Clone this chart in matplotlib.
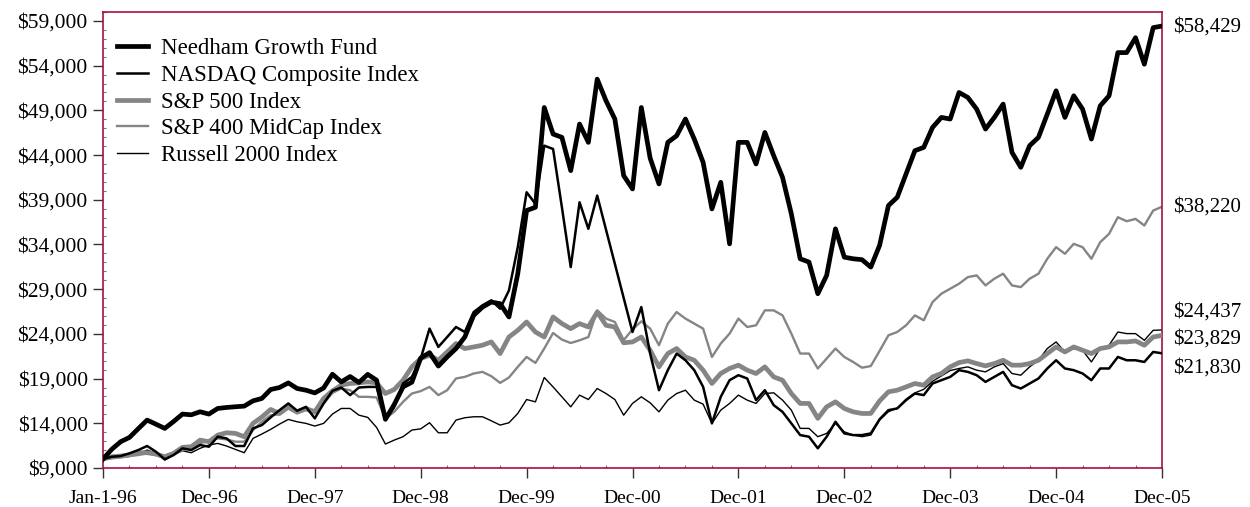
import numpy as np
import matplotlib
matplotlib.use("Agg")
import matplotlib.pyplot as plt
from matplotlib.ticker import FixedLocator, MultipleLocator, FuncFormatter

plt.rcParams['font.family'] = ['Liberation Serif', 'DejaVu Serif']

# growth of $10,000, month ends Jan-1-96 .. Dec-05 (121 points)
needham = [
    10000, 11100, 11940, 12420, 13400, 14360, 13900, 13430, 14200, 15030,
    14950, 15290, 15030, 15660, 15770, 15850, 15920, 16510, 16780, 17780,
    18000, 18520, 17890, 17700, 17400, 17950, 19490, 18630, 19230, 18570,
    19470, 18820, 14450, 16100, 18070, 18600, 21300, 21900, 20400, 21425,
    22360, 23650, 26075, 27000, 27560, 27380, 25890, 30730, 37800, 38160,
    49320, 46350, 45980, 42260, 47470, 45420, 52490, 50070, 48030, 41700,
    40210, 49320, 43650, 40770, 45420, 46160, 48030, 45790, 43190, 37980,
    40950, 34070, 45420, 45420, 43000, 46530, 43930, 41510, 37420, 32400,
    32030, 28490, 30540, 35750, 32580, 32400, 32300, 31470, 33900, 38350,
    39280, 41890, 44490, 44860, 47090, 48210, 48030, 51000, 50440, 49140,
    46910, 48210, 49700, 44300, 42630, 45050, 45980, 48580, 51190, 48210,
    50630, 49140, 45790, 49510, 50630, 55460, 55460, 57130, 54160, 58250,
    58429]

nasdaq = [
    10000, 10260, 10340, 10640, 11010, 11460, 10820, 9970, 10450, 11200,
    11010, 11570, 11380, 12500, 12310, 11460, 11460, 13430, 13800, 14660,
    15470, 16220, 15400, 15840, 14550, 16220, 17630, 18000, 17150, 18000,
    18070, 18070, 14360, 15840, 18450, 19190, 21240, 24590, 22540, 23650,
    24770, 24210, 26440, 27190, 27750, 26820, 28860, 33700, 39840, 38540,
    45050, 44680, 38160, 31470, 38720, 35750, 39470, 35650, 31840, 28020,
    24210, 27000, 21800, 17700, 19940, 21800, 21050, 19940, 18080, 13990,
    16960, 18820, 19380, 19010, 16590, 17700, 16030, 15280, 13990, 12680,
    12500, 11200, 12500, 14170, 12870, 12680, 12680, 12870, 14450, 15470,
    15660, 16590, 17330, 17150, 18450, 18820, 19190, 19940, 19750, 19380,
    18630, 19190, 19750, 18260, 17890, 18450, 19010, 20130, 21050, 20130,
    19940, 19570, 18820, 20130, 20130, 21420, 21050, 21050, 20860, 21980,
    21830]

sp500 = [
    10000, 10260, 10340, 10450, 10710, 10710, 10560, 10260, 10640, 11310,
    11380, 12120, 11940, 12680, 12940, 12870, 12500, 13990, 14700, 15550,
    15100, 15840, 15290, 15660, 15290, 16780, 17630, 18260, 18450, 18520,
    18630, 18520, 17330, 17780, 18820, 20310, 21240, 21610, 21050, 21980,
    22920, 22360, 22540, 22730, 23100, 21800, 23650, 24400, 25330, 24210,
    23650, 25890, 25150, 24590, 25150, 24770, 26440, 24960, 24770, 23000,
    23100, 23650, 22170, 20310, 21800, 22360, 21420, 21050, 19940, 18450,
    19570, 20130, 20500, 19940, 19570, 20310, 19190, 18820, 17330, 16220,
    16220, 14550, 15840, 16400, 15660, 15280, 15100, 15100, 16500, 17520,
    17700, 18070, 18450, 18260, 19190, 19570, 20310, 20790, 20980, 20680,
    20420, 20680, 21050, 20500, 20500, 20680, 21050, 21800, 22540, 21980,
    22540, 22170, 21800, 22360, 22540, 23100, 23100, 23210, 22730, 23650,
    23829]

midcap = [
    10000, 10080, 10190, 10340, 10450, 10640, 10450, 10080, 10560, 11010,
    11200, 11750, 12120, 12310, 12200, 11940, 11940, 13240, 14170, 14900,
    15000, 15660, 15100, 15470, 15100, 16220, 17400, 17890, 17700, 16960,
    16960, 16890, 14550, 15290, 16400, 17330, 17600, 18070, 17150, 17700,
    19010, 19190, 19570, 19750, 19270, 18520, 19120, 20310, 21420, 20750,
    22360, 24100, 23360, 22980, 23280, 23650, 26630, 25710, 25330, 23300,
    24500, 25400, 24590, 22730, 25150, 26440, 25710, 25150, 24590, 21420,
    22920, 24030, 25710, 24770, 24960, 26630, 26630, 26070, 24030, 21800,
    21800, 20130, 21240, 22360, 21420, 20860, 20220, 20400, 22100, 23840,
    24210, 24960, 26070, 25520, 27560, 28490, 29050, 29610, 30350, 30540,
    29420, 30170, 30730, 29420, 29230, 30170, 30730, 32400, 33700, 32960,
    34070, 33700, 32400, 34260, 35190, 37050, 36600, 36860, 36120, 37790,
    38220]

russell = [
    10000, 10080, 10260, 10340, 10560, 11010, 10640, 9890, 10450, 10930,
    10710, 11200, 11570, 11750, 11460, 11080, 10710, 12310, 12800, 13320,
    13910, 14430, 14170, 13990, 13690, 13990, 15030, 15660, 15660, 14910,
    14660, 13540, 11680, 12120, 12500, 13240, 13380, 14060, 12940, 12940,
    14360, 14620, 14730, 14730, 14280, 13800, 14060, 15100, 16660, 16400,
    19120, 18070, 16960, 15840, 17150, 16660, 17890, 17330, 16660, 14910,
    16220, 16960, 16290, 15280, 16590, 17330, 17700, 16590, 16140, 13990,
    15470, 16220, 17150, 16590, 16220, 17330, 17410, 16590, 15470, 13430,
    13430, 12500, 12870, 13990, 13050, 12680, 12500, 12680, 14360, 15300,
    15700, 16700, 17400, 17800, 18700, 19300, 19900, 20130, 20310, 19940,
    19750, 20310, 20680, 19570, 19380, 20310, 21050, 22360, 23100, 21980,
    22360, 22170, 20860, 22360, 22730, 24210, 24030, 24030, 23280, 24400,
    24437]

series_names = ["Needham Growth Fund", "NASDAQ Composite Index", "S&P 500 Index",
                "S&P 400 MidCap Index", "Russell 2000 Index"]
tick_labels = ["Jan-1-96", "Dec-96", "Dec-97", "Dec-98", "Dec-99", "Dec-00",
               "Dec-01", "Dec-02", "Dec-03", "Dec-04", "Dec-05"]

spine_col = "#A3123F"
grey = "#858585"

fig = plt.figure(figsize=(12.5, 5.07), dpi=100)
ax = fig.add_axes([103 / 1250, 1 - 468 / 507, 1059 / 1250, 456 / 507])

months = np.arange(len(needham))
ax.plot(months, russell, color="black", lw=1.0, zorder=2)
ax.plot(months, midcap, color=grey, lw=1.7, zorder=2)
ax.plot(months, sp500, color=grey, lw=3.4, zorder=3)
ax.plot(months, nasdaq, color="black", lw=1.8, zorder=4)
ax.plot(months, needham, color="black", lw=3.4, zorder=5)

ax.set_xlim(0, 120)
ax.set_ylim(9000, 60000)

ax.xaxis.set_major_locator(FixedLocator(np.arange(0, 121, 12)))
ax.set_xticklabels(tick_labels)
ax.xaxis.set_minor_locator(MultipleLocator(3))
ax.yaxis.set_major_locator(FixedLocator(np.arange(9000, 59001, 5000)))
ax.yaxis.set_minor_locator(MultipleLocator(1000))
ax.yaxis.set_major_formatter(FuncFormatter(lambda v, p: "${:,.0f}".format(v)))

ax.tick_params(axis="both", which="major", length=7, width=1, color="#333333")
ax.tick_params(axis="x", which="major", labelsize=14, pad=9)
ax.tick_params(axis="y", which="major", labelsize=15.5, pad=4)
ax.tick_params(which="minor", direction="in", length=2.5, width=0.8,
               color="#777777")
ax.tick_params(axis="y", which="minor", length=2)

for s in ax.spines.values():
    s.set_color(spine_col)
    s.set_linewidth(1.2)

# legend
handles = ax.get_lines()[::-1]
leg = fig.legend(handles, series_names, loc="upper left",
                 bbox_to_anchor=(117 / 1250, 1 - 38 / 507), frameon=False,
                 fontsize=16.5, handlelength=1.35, handletextpad=0.55,
                 labelspacing=0.25, borderpad=0, borderaxespad=0)

# end values on the right
end_vals = [needham[-1], midcap[-1], russell[-1], sp500[-1], nasdaq[-1]]
label_y = [58300, 38200, 26400, 23400, 20200]
for v, y in zip(end_vals, label_y):
    ax.text(1.0105, y, "${:,.0f}".format(v), transform=ax.get_yaxis_transform(),
            fontsize=15, va="center", ha="left", clip_on=False)

fig.savefig("out.png", dpi=100)
